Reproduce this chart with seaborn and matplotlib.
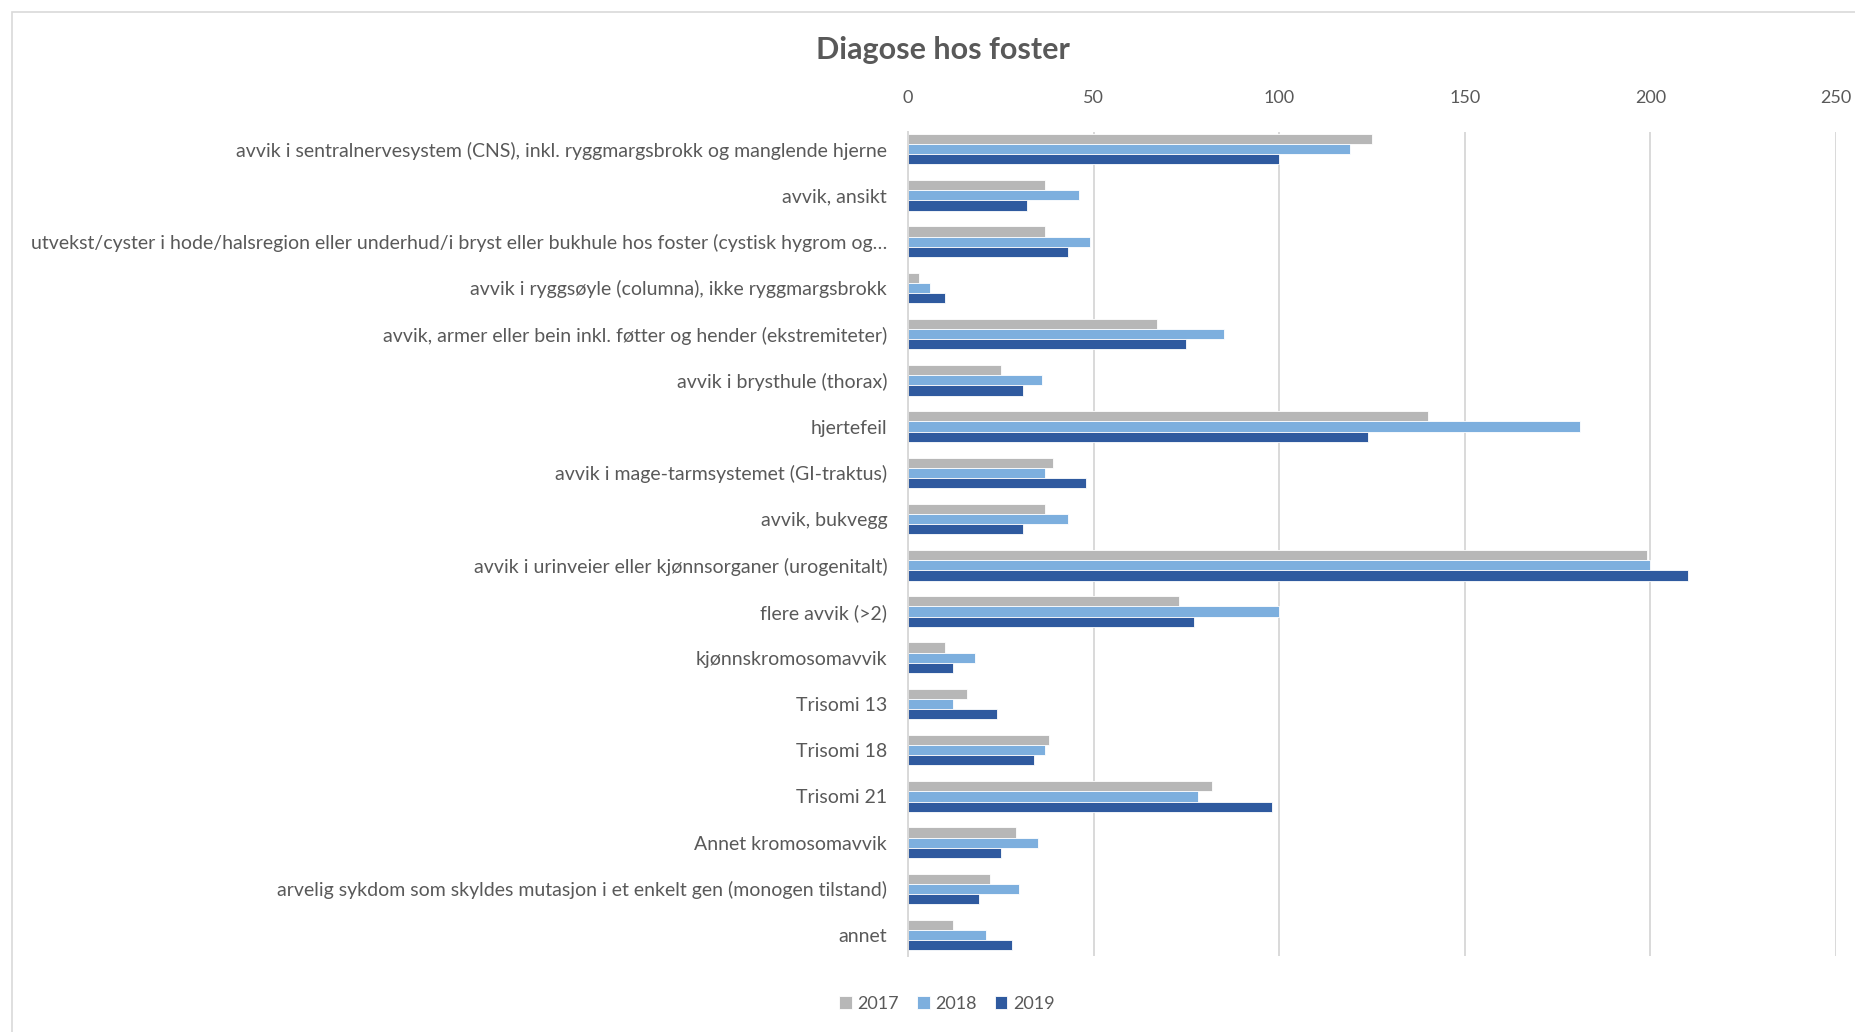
import matplotlib
matplotlib.use("Agg")
import matplotlib.pyplot as plt
import seaborn as sns
import pandas as pd
from matplotlib.patches import Rectangle

categories = [
    "avvik i sentralnervesystem (CNS), inkl. ryggmargsbrokk og manglende hjerne",
    "avvik, ansikt",
    "utvekst/cyster i hode/halsregion eller underhud/i bryst eller bukhule hos foster (cystisk hygrom og…",
    "avvik i ryggsøyle (columna), ikke ryggmargsbrokk",
    "avvik, armer eller bein inkl. føtter og hender (ekstremiteter)",
    "avvik i brysthule (thorax)",
    "hjertefeil",
    "avvik i mage-tarmsystemet (GI-traktus)",
    "avvik, bukvegg",
    "avvik i urinveier eller kjønnsorganer (urogenitalt)",
    "flere avvik (>2)",
    "kjønnskromosomavvik",
    "Trisomi 13",
    "Trisomi 18",
    "Trisomi 21",
    "Annet kromosomavvik",
    "arvelig sykdom som skyldes mutasjon i et enkelt gen (monogen tilstand)",
    "annet",
]
years = ["2017", "2018", "2019"]
v2017 = [125, 37, 37, 3, 67, 25, 140, 39, 37, 199, 73, 10, 16, 38, 82, 29, 22, 12]
v2018 = [119, 46, 49, 6, 85, 36, 181, 37, 43, 200, 100, 18, 12, 37, 78, 35, 30, 21]
v2019 = [100, 32, 43, 10, 75, 31, 124, 48, 31, 210, 77, 12, 24, 34, 98, 25, 19, 28]
x_ticks = [0, 50, 100, 150, 200, 250]

rows = []
for yr, vals in zip(years, [v2017, v2018, v2019]):
    for c, v in zip(categories, vals):
        rows.append({"kategori": c, "år": yr, "antall": v})
df = pd.DataFrame(rows)

sns.set_theme(style="white")
plt.rcParams["font.family"] = ["Lato", "DejaVu Sans"]

TXT = "#595959"
GRID = "#D9D9D9"
palette = {"2017": "#B7B7B7", "2018": "#7DAFDE", "2019": "#2F5A9F"}

fig = plt.figure(figsize=(18.56, 10.32), dpi=100)
ax = fig.add_axes([908 / 1856, 1 - 956 / 1032, (1836 - 908) / 1856, (956 - 132) / 1032])

sns.barplot(data=df, y="kategori", x="antall", hue="år", order=categories,
            hue_order=years, palette=palette, orient="h", width=0.66,
            saturation=1, errorbar=None, ax=ax, legend=True,
            edgecolor="white", linewidth=0.6)

ax.set_xlim(0, 250)
ax.set_ylim(17.45, -0.37)
ax.set_xticks(x_ticks)
ax.xaxis.tick_top()
ax.tick_params(axis="x", length=0, labelsize=13, labelcolor=TXT, pad=18.5)
ax.tick_params(axis="y", length=0, labelsize=14, labelcolor=TXT, pad=15)
ax.set_xlabel("")
ax.set_ylabel("")
ax.grid(axis="x", color=GRID, linewidth=1.4)
ax.set_axisbelow(True)
for s in ["top", "right", "bottom"]:
    ax.spines[s].set_visible(False)
ax.spines["left"].set_color(GRID)
ax.spines["left"].set_linewidth(1.4)

leg = ax.legend(loc="center", bbox_to_anchor=(947 / 1856, 1 - 1004 / 1032),
                bbox_transform=fig.transFigure, ncol=3, frameon=False,
                fontsize=13, handlelength=0.7, handleheight=0.7,
                handletextpad=0.3, columnspacing=1.0)
for t in leg.get_texts():
    t.set_color(TXT)

fig.text(943 / 1856, 1 - 50 / 1032, "Diagose hos foster", ha="center", va="center",
         fontsize=22, fontweight="bold", color=TXT)

fig.patches.append(Rectangle((12 / 1856, -0.01), 1.1, 1 - 12 / 1032 + 0.01,
                             transform=fig.transFigure, fill=False,
                             edgecolor=GRID, linewidth=1.2))

fig.savefig("out.png", dpi=100, facecolor="white")
